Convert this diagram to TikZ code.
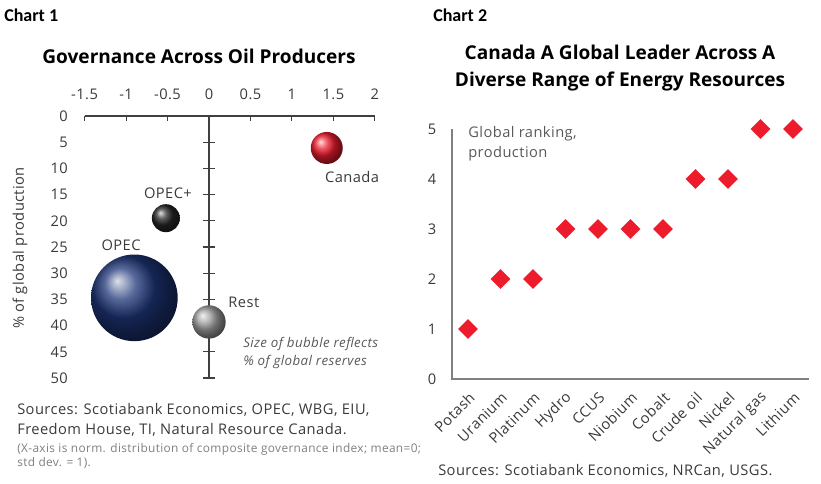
\documentclass[tikz,border=0pt]{standalone}
\usepackage{fontspec}
\setmainfont{Open Sans}[LetterSpace=3]
\newfontfamily\headfont{Open Sans}
\newfontfamily\chartfont{Carlito}
\usetikzlibrary{shapes.geometric}
\usetikzlibrary{positioning}
\usepackage{xcolor}
\definecolor{scotiared}{HTML}{EC1C2D}
\definecolor{axisgray}{HTML}{404040}
\definecolor{textgray}{HTML}{3A3A3A}
\definecolor{notegray}{HTML}{7F7F7F}
\definecolor{opecblue}{HTML}{1E3578}

\begin{document}
\begin{tikzpicture}[x=0.75pt, y=-0.75pt,
    every node/.style={inner sep=0pt, text=textgray, font=\fontsize{11}{15}\selectfont},
    charttag/.style={text=black, font=\chartfont\fontsize{13.5}{16}\selectfont\bfseries},
    heading/.style={text=black, align=center, font=\headfont\fontsize{14.3}{20.3}\selectfont\bfseries},
    bubble/.style={circle, inner sep=0pt},
    gem/.style={diamond, fill=scotiared, inner sep=0pt, minimum size=15pt},
    axis/.style={axisgray, line width=0.8pt},
    axisb/.style={gray, line width=1.1pt}]
\useasboundingbox (0,0) rectangle (821,483);

% chart 1
\node[charttag, anchor=west] (tag1) at (4,15) {Chart 1};
\node[heading] (title1) at (199,56) {Governance Across Oil Producers};
\begin{scope}[shift={(209,116)}, x=62.2pt, y=-3.93pt]
    \draw[axis] (-1.5,0) -- (2,0);
    \draw[axis] (0,0) -- (0,50);
    \foreach \v in {-1.5,-1,-0.5,0,0.5,1,1.5,2} {
        \draw[axis] (\v,0) -- ++(0pt,-3.75pt);
        \node (xl\v) at ([yshift=16.5pt]\v,0) {\v};
    }
    \foreach \p in {5,10,...,50}
        \draw[axis] ([xshift=-4.5pt]0,\p) -- ([xshift=4.5pt]0,\p);
    \foreach \p in {0,5,...,50}
        \node[anchor=east] (yl\p) at (-1.70,\p) {\p};
    \node[bubble, ball color=scotiared, minimum size=24pt] (canada) at (1.42,6.1) {};
    \node[bubble, ball color=black!85, minimum size=21pt] (opecplus) at (-0.52,19.5) {};
    \node[bubble, ball color=opecblue, minimum size=65pt] (opec) at (-0.9,34.7) {};
    \node[bubble, ball color=gray!75, minimum size=25pt] (rest) at (0,39.3) {};
    \node (canadalbl) at (1.725,11.6) {Canada};
    \node (opecpluslbl) at (-0.495,14.7) {OPEC+};
    \node (opeclbl) at (-1.06,24.6) {OPEC};
    \node (restlbl) at (0.42,35.5) {Rest};
\end{scope}
\node[rotate=90] (ytitle) at (20,248) {\% of global production};
\node[anchor=west, align=left, text=black!65, font=\fontsize{10}{13.5}\selectfont\itshape] (sizenote) at (243,353)
    {Size of bubble reflects\\\% of global reserves};
\node[anchor=north west, align=left] (src1) at (17,403)
    {Sources: Scotiabank Economics, OPEC, WBG, EIU,\\Freedom House, TI, Natural Resource Canada.};
\node[anchor=north west, align=left, text=notegray, font=\fontsize{8.9}{10.5}\selectfont] (note1) at (17,443)
    {(X-axis is norm. distribution of composite governance index; mean=0;\\std dev. = 1).};

% chart 2
\node[charttag, anchor=west] (tag2) at (433,15) {Chart 2};
\node[heading] (title2) at (620,68) {Canada A Global Leader Across A\\Diverse Range of Energy Resources};
\begin{scope}[shift={(435.5,379)}, x=24.375pt, y=37.5pt]
    \draw[axisb] (0.508,5) -- (0.508,0) -- (11.49,0);
    \foreach \r in {0,...,5}
        \node (rl\r) at (-0.108,\r) {\r};
    \foreach \name/\r [count=\i] in {Potash/1, Uranium/2, Platinum/2, Hydro/3, CCUS/3,
        Niobium/3, Cobalt/3, Crude oil/4, Nickel/4, Natural gas/5, Lithium/5} {
        \node[gem] (gem\i) at (\i,\r) {};
        \node[rotate=45, anchor=east] (cat\i) at ([xshift=3pt,yshift=-12pt]\i,0) {\name};
    }
\end{scope}
\node[anchor=west, align=left, text=black!65] (ranknote) at (468,144) {Global ranking,\\production};
\node[anchor=west] (src2) at (438,471) {Sources: Scotiabank Economics, NRCan, USGS.};
\end{tikzpicture}
\end{document}
